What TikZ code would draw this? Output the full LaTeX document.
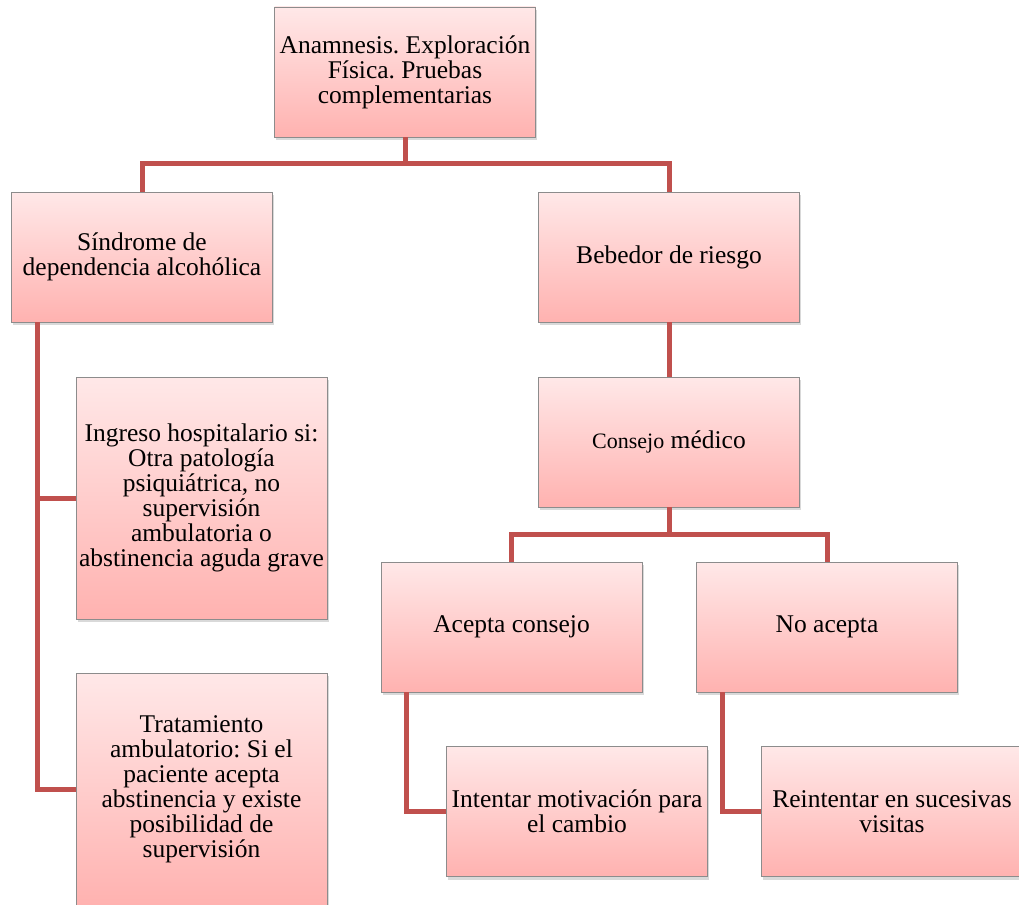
\documentclass[tikz,border=0pt]{standalone}
\usepackage{fontspec}
\setmainfont{Liberation Serif}
\usepackage{tikz}
\usetikzlibrary{calc}
\usetikzlibrary{shadows}
\frenchspacing
\definecolor{linkred}{RGB}{192,80,77}
\definecolor{boxtop}{RGB}{255,232,232}
\definecolor{boxbot}{RGB}{255,178,176}
\tikzstyle{box}=[draw=black!45,line width=.8pt,top color=boxtop,bottom color=boxbot,
  drop shadow={shadow xshift=1.5pt,shadow yshift=-3pt,opacity=.3},
  align=center,minimum width=261pt,minimum height=130pt,inner sep=2pt,
  font=\fontsize{25.5}{25}\selectfont]
\tikzstyle{tall}=[box,minimum width=251pt]
\tikzstyle{link}=[line width=5pt,linkred]
\newcommand\smaller[1]{{\fontsize{22}{25}\selectfont #1}}

\begin{document}
\begin{tikzpicture}[x=1pt,y=-1pt]
	\useasboundingbox (0,0) rectangle (1019,904);
	\clip (0,0) rectangle (1019,904);
	\node[box] (anam) at (405,72)    {Anamnesis. Exploración\\Física. Pruebas\\complementarias};
	\node[box] (sind) at (142,257)   {Síndrome de\\dependencia alcohólica};
	\node[box] (bebe) at (669,257)   {Bebedor de riesgo};
	\node[tall,minimum height=242pt] (ingr) at (201.5,498)
		{Ingreso hospitalario si:\\Otra patología\\psiquiátrica, no\\supervisión\\ambulatoria o\\abstinencia aguda grave};
	\node[tall,minimum height=232pt] (trat) at (201.5,789)
		{Tratamiento\\ambulatorio: Si el\\paciente acepta\\abstinencia y existe\\posibilidad de\\supervisión};
	\node[box] (cons) at (669,442)   {\smaller{Consejo} médico};
	\node[box] (acep) at (511.5,627) {Acepta consejo};
	\node[box] (noac) at (827,627)   {No acepta};
	\node[box] (intn) at (577,811.5) {Intentar motivación para\\el cambio};
	\node[box] (rein) at (892,811.5) {Reintentar en sucesivas\\visitas};

	\coordinate (j1) at (405,164);
	\coordinate (j2) at (669,534);
	\coordinate (s1) at ($(sind.south west)+(26,0)$);
	\coordinate (a1) at ($(acep.south west)+(26,0)$);
	\coordinate (n1) at ($(noac.south west)+(26,0)$);
	\draw[link] (anam.south) -- (j1) -| (sind.north);
	\draw[link] (j1) -| (bebe.north);
	\draw[link] (bebe) -- (cons);
	\draw[link] (s1) |- (ingr.west);
	\draw[link] (s1) |- (trat.west);
	\draw[link] (cons.south) -- (j2) -| (acep.north);
	\draw[link] (j2) -| (noac.north);
	\draw[link] (a1) |- (intn.west);
	\draw[link] (n1) |- (rein.west);
\end{tikzpicture}
\end{document}
